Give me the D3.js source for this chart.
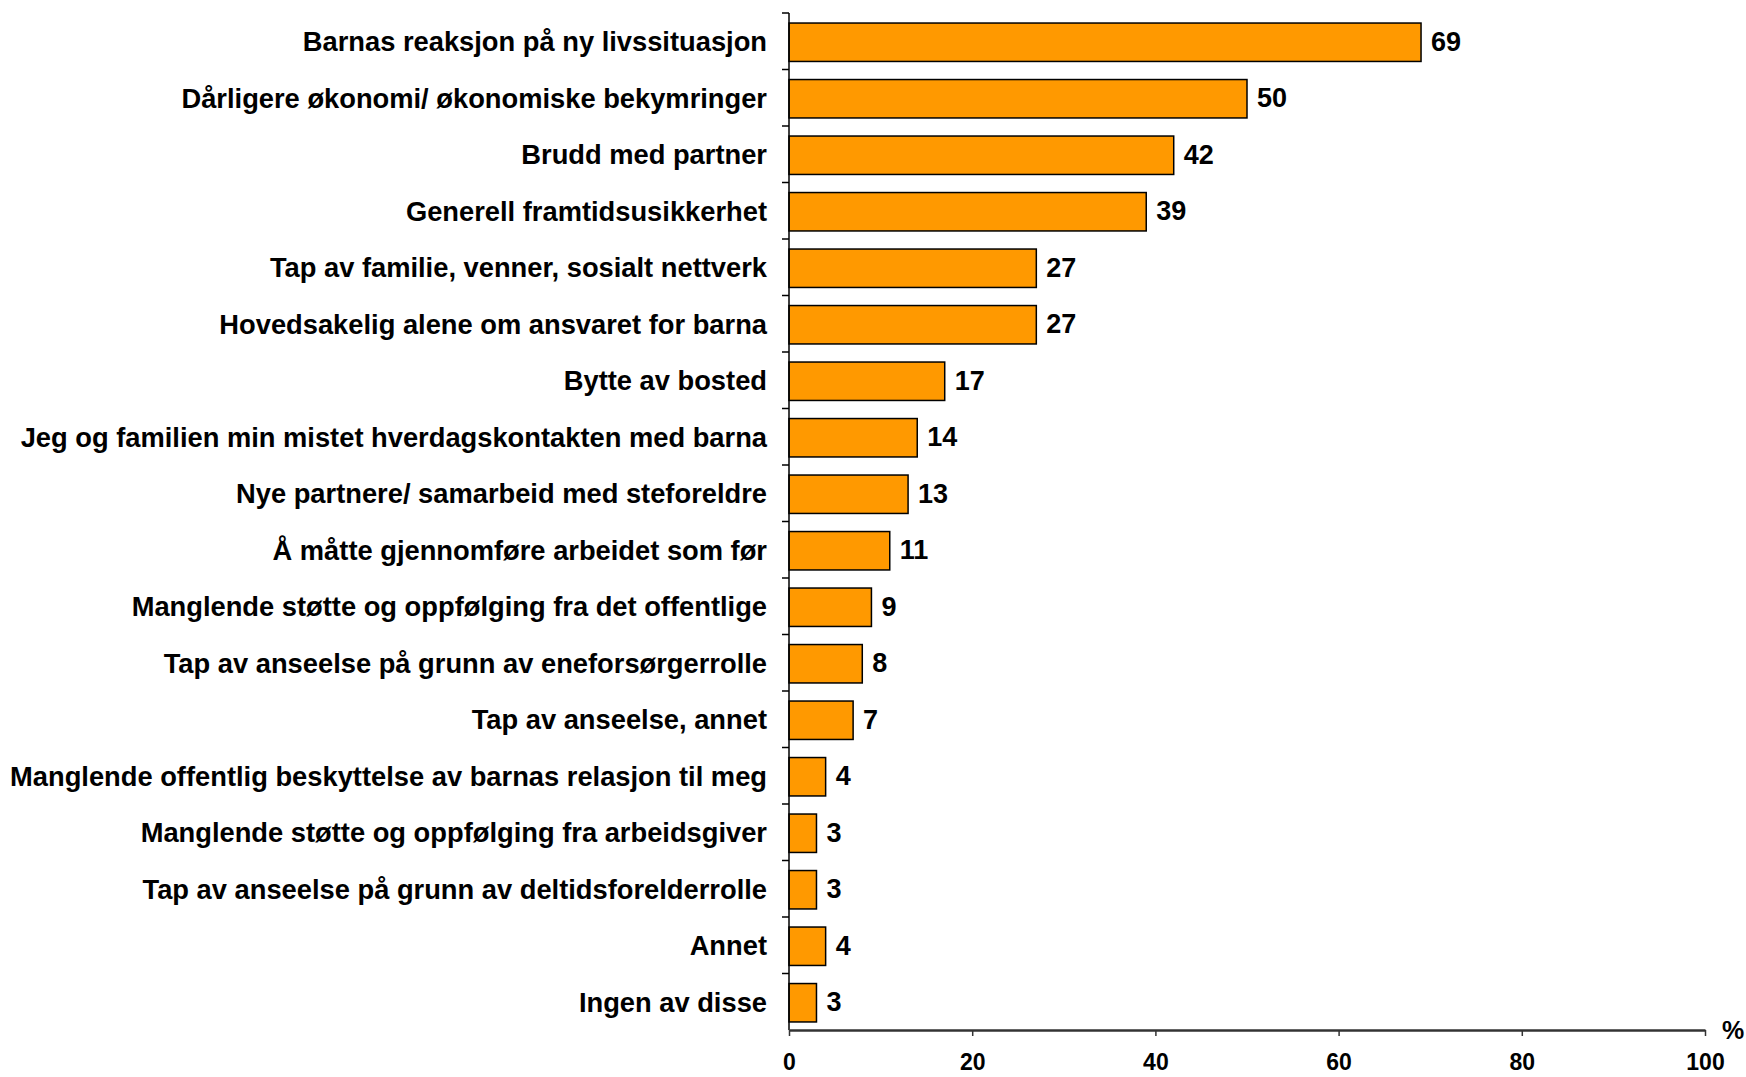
<!DOCTYPE html>
<html>
<head>
<meta charset="utf-8">
<script src="https://cdn.jsdelivr.net/npm/d3@7"></script>
<style>
  body { margin: 0; background: #fff; }
  text { font-family: "Liberation Sans", Arial, sans-serif; font-weight: bold; }
</style>
</head>
<body>
<div id="chart"></div>
<script>
// data
const categories = [
  "Barnas reaksjon på ny livssituasjon",
  "Dårligere økonomi/ økonomiske bekymringer",
  "Brudd med partner",
  "Generell framtidsusikkerhet",
  "Tap av familie, venner, sosialt nettverk",
  "Hovedsakelig alene om ansvaret for barna",
  "Bytte av bosted",
  "Jeg og familien min mistet hverdagskontakten med barna",
  "Nye partnere/ samarbeid med steforeldre",
  "Å måtte gjennomføre arbeidet som før",
  "Manglende støtte og oppfølging fra det offentlige",
  "Tap av anseelse på grunn av eneforsørgerrolle",
  "Tap av anseelse, annet",
  "Manglende offentlig beskyttelse av barnas relasjon til meg",
  "Manglende støtte og oppfølging fra arbeidsgiver",
  "Tap av anseelse på grunn av deltidsforelderrolle",
  "Annet",
  "Ingen av disse"
];
const values = [69, 50, 42, 39, 27, 27, 17, 14, 13, 11, 9, 8, 7, 4, 3, 3, 4, 3];
const xTicks = [0, 20, 40, 60, 80, 100];
const unitLabel = "%";

const width = 1746;
const height = 1077;
const margin = {top: 13, right: 41, bottom: 47, left: 789};

const svg = d3.select("#chart")
  .append("svg")
  .attr("width", width)
  .attr("height", height);

const x = d3.scaleLinear()
  .domain([0, 100])
  .range([margin.left, width - margin.right]);

const y = d3.scaleBand()
  .domain(categories)
  .range([margin.top, height - margin.bottom])
  .paddingInner(0.32)
  .paddingOuter(0.16);

// bars
svg.append("g")
  .selectAll("rect")
  .data(values)
  .join("rect")
  .attr("x", x(0))
  .attr("y", (d, i) => y(categories[i]) + 1)
  .attr("width", d => x(d) - x(0))
  .attr("height", y.bandwidth())
  .attr("fill", "#FF9900")
  .attr("stroke", "#000")
  .attr("stroke-width", 1.5);

// value labels
svg.append("g")
  .selectAll("text")
  .data(values)
  .join("text")
  .attr("x", d => x(d) + 10)
  .attr("y", (d, i) => y(categories[i]) + y.bandwidth() / 2)
  .attr("dy", "0.36em")
  .attr("font-size", 27)
  .attr("fill", "#000")
  .text(d => d);

// category labels
svg.append("g")
  .selectAll("text")
  .data(categories)
  .join("text")
  .attr("x", margin.left - 22)
  .attr("y", d => y(d) + y.bandwidth() / 2)
  .attr("dy", "0.36em")
  .attr("text-anchor", "end")
  .attr("font-size", 27.3)
  .attr("fill", "#000")
  .text(d => d);

// y axis line with separator ticks between categories
const step = y.step();
const bandEdges = d3.range(categories.length + 1).map(i => margin.top + i * step);
const yAxis = svg.append("g");
yAxis.append("line")
  .attr("x1", x(0)).attr("x2", x(0))
  .attr("y1", margin.top).attr("y2", height - margin.bottom)
  .attr("stroke", "#000").attr("stroke-width", 1.5);
yAxis.selectAll(".sep")
  .data(bandEdges.slice(0, -1))
  .join("line")
  .attr("class", "sep")
  .attr("x1", x(0) - 7).attr("x2", x(0))
  .attr("y1", d => d).attr("y2", d => d)
  .attr("stroke", "#000").attr("stroke-width", 1.5);

// x axis
const xAxis = svg.append("g")
  .attr("transform", `translate(0,${height - margin.bottom})`)
  .call(d3.axisBottom(x).tickValues(xTicks).tickSize(6).tickSizeOuter(0).tickPadding(18));
xAxis.select(".domain").attr("stroke", "#333").attr("stroke-width", 2.5);
xAxis.selectAll(".tick line").attr("stroke", "#333").attr("stroke-width", 1.5);
xAxis.selectAll(".tick text")
  .attr("font-size", 23)
  .attr("font-family", "Liberation Sans, Arial, sans-serif")
  .attr("font-weight", "bold")
  .attr("fill", "#000");

svg.append("text")
  .attr("x", x(100) + 17)
  .attr("y", height - margin.bottom)
  .attr("dy", "0.35em")
  .attr("font-size", 25)
  .attr("fill", "#000")
  .text(unitLabel);
</script>
</body>
</html>
